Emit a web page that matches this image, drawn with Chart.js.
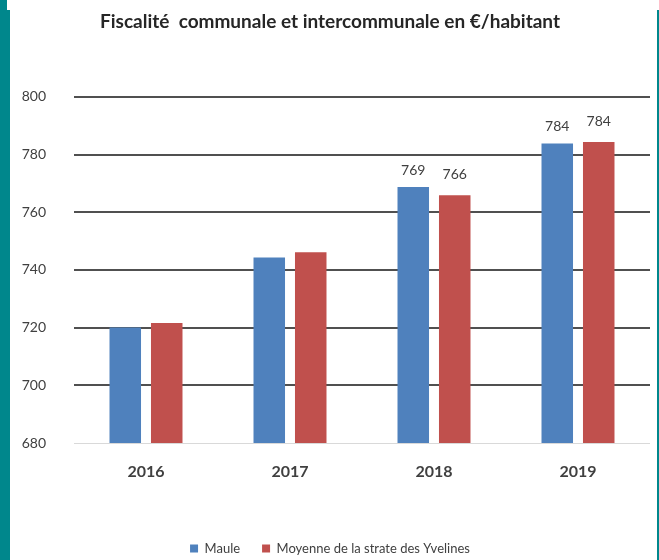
<!DOCTYPE html>
<html lang="fr">
<head>
<meta charset="utf-8">
<title>Fiscalité communale et intercommunale</title>
<script src="https://cdn.jsdelivr.net/npm/chart.js@4.4.1/dist/chart.umd.min.js"></script>
<style>
  html, body { margin: 0; padding: 0; background: #fff; overflow: hidden; }
  .frame { position: relative; width: 659px; height: 560px; overflow: hidden; }
  .edge-left { position: absolute; left: 0; top: 10px; width: 10px; height: 550px; background: #00878c; }
  .edge-top { position: absolute; left: 0; top: 0; width: 7px; height: 10px; background: #00878c; }
  .edge-right { position: absolute; left: 657px; top: 10px; width: 2px; height: 550px; background: #00878c; }
  canvas { position: absolute; left: 0; top: 0; }
</style>
</head>
<body>
<div class="frame">
  <div class="edge-top"></div>
  <div class="edge-left"></div>
  <div class="edge-right"></div>
  <canvas id="fiscChart" width="659" height="565"></canvas>
</div>

<script>
// ── Data ──
const years = ['2016', '2017', '2018', '2019'];
const maule = [720, 744.3, 768.7, 783.8];
const moyenneYvelines = [721.6, 746.1, 765.9, 784.3];
const showValue = [false, false, true, true];   // labels only on 2018 / 2019
const yTicks = [680, 700, 720, 740, 760, 780, 800];

const FONT = 'Lato, "Liberation Sans", sans-serif';
const TEXT = '#404040';

// ── Value labels above bars ──
const valueLabels = {
  id: 'valueLabels',
  afterDatasetsDraw(chart) {
    const ctx = chart.ctx;
    ctx.save();
    ctx.font = '14px ' + FONT;
    ctx.fillStyle = TEXT;
    ctx.textAlign = 'center';
    ctx.textBaseline = 'middle';
    const lift = [17, 21];
    chart.data.datasets.forEach((ds, di) => {
      chart.getDatasetMeta(di).data.forEach((bar, i) => {
        if (!showValue[i]) return;
        ctx.fillText(Math.round(ds.data[i]), bar.x, bar.y - lift[di]);
      });
    });
    ctx.restore();
  }
};

new Chart(document.getElementById('fiscChart'), {
  type: 'bar',
  data: {
    labels: years,
    datasets: [
      { label: 'Maule', data: maule, backgroundColor: '#4f81bd' },
      { label: 'Moyenne de la strate des Yvelines', data: moyenneYvelines, backgroundColor: '#c0504d' }
    ]
  },
  options: {
    responsive: false,
    animation: false,
    events: [],
    categoryPercentage: 0.576,
    barPercentage: 0.76,
    layout: { padding: { left: 10, right: 9, top: 0, bottom: 0 } },
    plugins: {
      title: {
        display: true,
        text: 'Fiscalité  communale et intercommunale en €/habitant',
        color: '#262626',
        font: { family: FONT, size: 19, weight: 'bold' },
        padding: { top: 10, bottom: 64 }
      },
      legend: {
        position: 'bottom',
        labels: {
          color: TEXT,
          font: { family: FONT, size: 13 },
          boxWidth: 8,
          boxHeight: 8,
          padding: 22
        }
      },
      tooltip: { enabled: false }
    },
    scales: {
      y: {
        min: yTicks[0],
        max: yTicks[yTicks.length - 1],
        afterBuildTicks: s => { s.ticks = yTicks.map(v => ({ value: v })); },
        afterFit: s => { s.width = 64; },
        border: { display: false },
        grid: {
          drawTicks: false,
          color: c => c.tick && c.tick.value === yTicks[0] ? '#d9d9d9' : '#505050',
          lineWidth: c => c.tick && c.tick.value === yTicks[0] ? 1 : 2
        },
        ticks: { color: TEXT, padding: 28, font: { family: FONT, size: 14 } }
      },
      x: {
        afterFit: s => { s.height = 77; },
        border: { display: false },
        grid: { display: false, drawTicks: false },
        ticks: { color: TEXT, padding: 19, font: { family: FONT, size: 16, weight: 'bold' } }
      }
    }
  },
  plugins: [valueLabels]
});
</script>
</body>
</html>
